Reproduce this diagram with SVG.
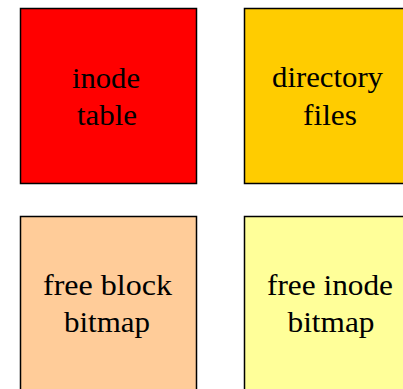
<svg xmlns="http://www.w3.org/2000/svg" width="403" height="389" viewBox="0 0 403 389">
<style>
.box{stroke:#000;stroke-width:1.5}
.t{font-family:"Liberation Serif",serif;font-size:30px;fill:#000;text-anchor:middle}
</style>
<rect width="403" height="389" fill="#fff"/>
<g id="inode-table">
<rect class="box" x="20.5" y="8.5" width="176" height="175" fill="#FF0000"/>
<text class="t" x="106" y="88" textLength="68" lengthAdjust="spacingAndGlyphs">inode</text>
<text class="t" x="107" y="125" textLength="60" lengthAdjust="spacingAndGlyphs">table</text>
</g>
<g id="directory-files">
<rect class="box" x="244.5" y="8.5" width="176" height="175" fill="#FFCC00"/>
<text class="t" x="327.5" y="87" textLength="111" lengthAdjust="spacingAndGlyphs">directory</text>
<text class="t" x="330" y="125" textLength="54" lengthAdjust="spacingAndGlyphs">files</text>
</g>
<g id="free-block-bitmap">
<rect class="box" x="20.5" y="216.5" width="176" height="175" fill="#FFCC99"/>
<text class="t" x="107.5" y="295" textLength="129" lengthAdjust="spacingAndGlyphs">free block</text>
<text class="t" x="107" y="332" textLength="86" lengthAdjust="spacingAndGlyphs">bitmap</text>
</g>
<g id="free-inode-bitmap">
<rect class="box" x="244.5" y="216.5" width="176" height="175" fill="#FFFF99"/>
<text class="t" x="330" y="295" textLength="126" lengthAdjust="spacingAndGlyphs">free inode</text>
<text class="t" x="331" y="332" textLength="87" lengthAdjust="spacingAndGlyphs">bitmap</text>
</g>
<g id="connectors"></g>
</svg>
